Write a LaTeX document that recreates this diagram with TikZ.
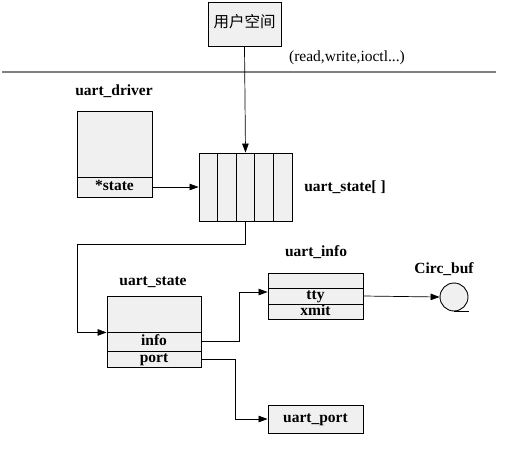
\documentclass[tikz,border=0pt]{standalone}
\usepackage{fontspec}
\setmainfont{Liberation Serif}
\newfontfamily\cjk{Noto Sans CJK SC}
\usetikzlibrary{arrows.meta}
\definecolor{boxgray}{HTML}{F0F0F0}
\newcommand\figfont{\fontsize{15.5pt}{17pt}\selectfont}
\begin{document}
\begin{tikzpicture}[x=1pt,y=-1pt,
    box/.style={draw,fill=boxgray,line width=0.9pt,inner sep=0pt,
      text height=10pt,text depth=3pt,font=\figfont\bfseries},
    lbl/.style={inner sep=0pt,font=\figfont\bfseries},
    link/.style={-{Triangle[length=9pt,width=6.5pt]},line width=0.7pt}]
  \useasboundingbox (0,0) rectangle (528,448);
  % user space / kernel line
  \node[box,font=\figfont\cjk,minimum width=73pt,minimum height=44pt] (user) at (244.5,24) {用户空间};
  \node[inner sep=0pt,font=\figfont] (calls) at (347,58) {(read,write,ioctl...)};
  \coordinate (sepl) at (2,72);
  \coordinate (sepr) at (496,72);
  \draw[gray,line width=1.5pt] (sepl) -- (sepr);
  % uart_driver
  \node[lbl] (drvname) at (114,91) {uart\_driver};
  \node[box,minimum width=75pt,minimum height=66pt] (drv) at (114.5,144) {};
  \node[box,minimum width=75pt,minimum height=20pt] (drvstate) at (114.5,187) {*state};
  % uart_state[ ]
  \node[box,minimum width=93pt,minimum height=68pt] (arr) at (245.5,187) {};
  \foreach \i in {1,...,4}
    \draw[line width=0.9pt] (199+18.6*\i,153) -- (199+18.6*\i,221);
  \node[lbl] (arrname) at (345,187) {uart\_state[ ]};
  % uart_state
  \node[lbl] (stname) at (153,282) {uart\_state};
  \node[box,minimum width=94pt,minimum height=36pt] (stop) at (154,314) {};
  \node[box,minimum width=94pt,minimum height=19pt] (sinfo) at (154,341.5) {info};
  \node[box,minimum width=94pt,minimum height=16pt] (sport) at (154,359) {port};
  % uart_info
  \node[lbl] (infoname) at (316,252) {uart\_info};
  \node[box,minimum width=95pt,minimum height=15pt] (itop) at (315.5,280.5) {};
  \node[box,minimum width=95pt,minimum height=16pt] (tty) at (315.5,296) {tty};
  \node[box,minimum width=95pt,minimum height=15pt] (xmit) at (315.5,311.5) {xmit};
  % uart_port
  \node[box,minimum width=95pt,minimum height=28pt] (uport) at (315.5,419) {uart\_port};
  % circ_buf
  \node[lbl] (circname) at (444,269) {Circ\_buf};
  \node[draw,circle,fill=boxgray,line width=0.9pt,minimum size=28pt,inner sep=0pt] (circ) at (454,297) {};
  \draw[line width=0.9pt] (circ.south) -- ++(15,0);
  % connectors
  \coordinate (bend) at (77,244);
  \draw[link] (user.south) -- (arr.north);
  \draw[link] (drvstate.east) -- (arr.west);
  \draw[link] (arr.south) |- (bend) |- (stop.south west);
  \draw[link] (sinfo.east) -- ++(38,0) |- ([yshift=4pt]tty.west);
  \draw[link] (tty.east) -- (circ.west);
  \draw[link] (sport.east) -- ++(34,0) |- (uport.west);
\end{tikzpicture}
\end{document}
